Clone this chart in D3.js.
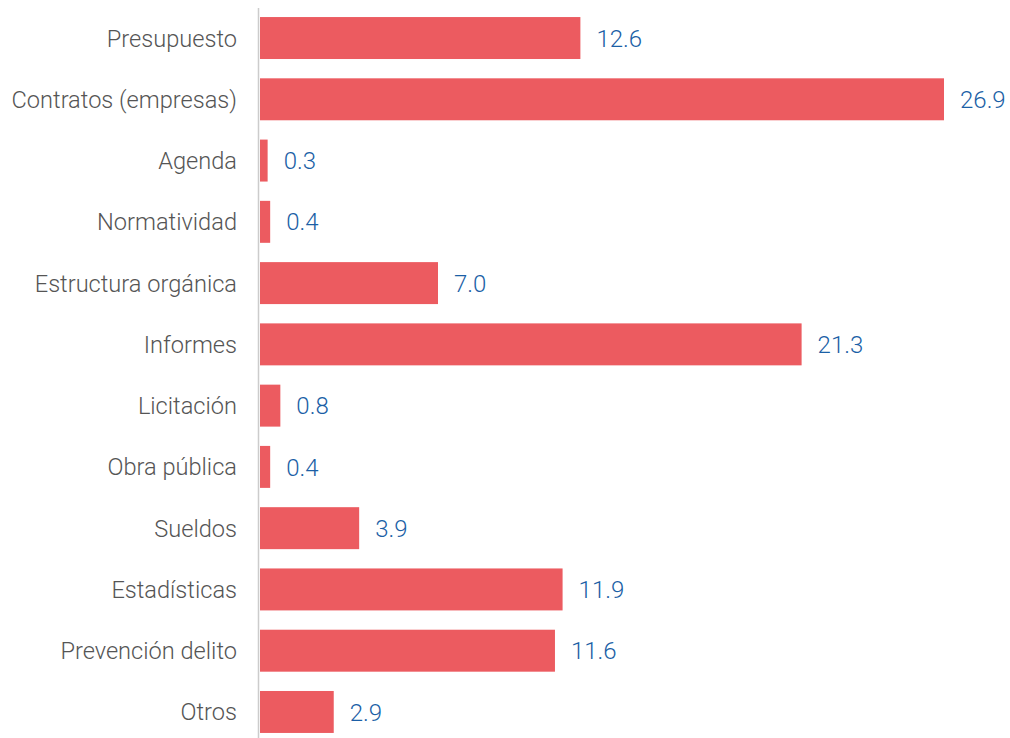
<!DOCTYPE html>
<html>
<head>
<meta charset="utf-8">
<script src="https://cdnjs.cloudflare.com/ajax/libs/d3/7.8.5/d3.min.js"></script>
<style>
  body { margin: 0; background: #fff; }
  svg text { font-family: Roboto, "Liberation Sans", sans-serif; }
</style>
</head>
<body>
<svg id="chart" width="1010" height="738"></svg>
<script>
const categories = ["Presupuesto", "Contratos (empresas)", "Agenda", "Normatividad",
  "Estructura orgánica", "Informes", "Licitación", "Obra pública", "Sueldos",
  "Estadísticas", "Prevención delito", "Otros"];
const values = [12.6, 26.9, 0.3, 0.4, 7.0, 21.3, 0.8, 0.4, 3.9, 11.9, 11.6, 2.9];

let svg = d3.select('#chart'),
    x0 = 260;

let x = d3.scaleLinear().domain([0, 26.9]).range([x0, 944]);
let y = d3.scaleBand().domain(categories).range([7.4, 742.6])
    .paddingInner(0.315).paddingOuter(0.1575);

// bars
svg.append('g').selectAll('rect')
    .data(values)
    .enter().append('rect')
    .attr('x', x(0))
    .attr('y', (d, i) => y(categories[i]))
    .attr('width', d => x(d) - x(0))
    .attr('height', y.bandwidth())
    .attr('fill', '#ec5b60');

// axis line
svg.append('line')
    .attr('x1', 258.5).attr('x2', 258.5)
    .attr('y1', 8).attr('y2', 738)
    .attr('stroke', '#cccccc').attr('stroke-width', 1.5);

// category labels
svg.append('g').selectAll('text')
    .data(categories)
    .enter().append('text')
    .attr('x', 237)
    .attr('y', d => y(d) + y.bandwidth() / 2)
    .attr('dy', '0.36em')
    .attr('text-anchor', 'end')
    .attr('font-size', 23.6)
    .attr('font-weight', 300)
    .attr('fill', '#555555')
    .text(d => d);

// value labels
svg.append('g').selectAll('text')
    .data(values)
    .enter().append('text')
    .attr('x', d => x(d) + 16)
    .attr('y', (d, i) => y(categories[i]) + y.bandwidth() / 2)
    .attr('dy', '0.36em')
    .attr('font-size', 24)
    .attr('font-weight', 300)
    .attr('fill', '#1b5fa6')
    .text(d => d.toFixed(1));
</script>
</body>
</html>
